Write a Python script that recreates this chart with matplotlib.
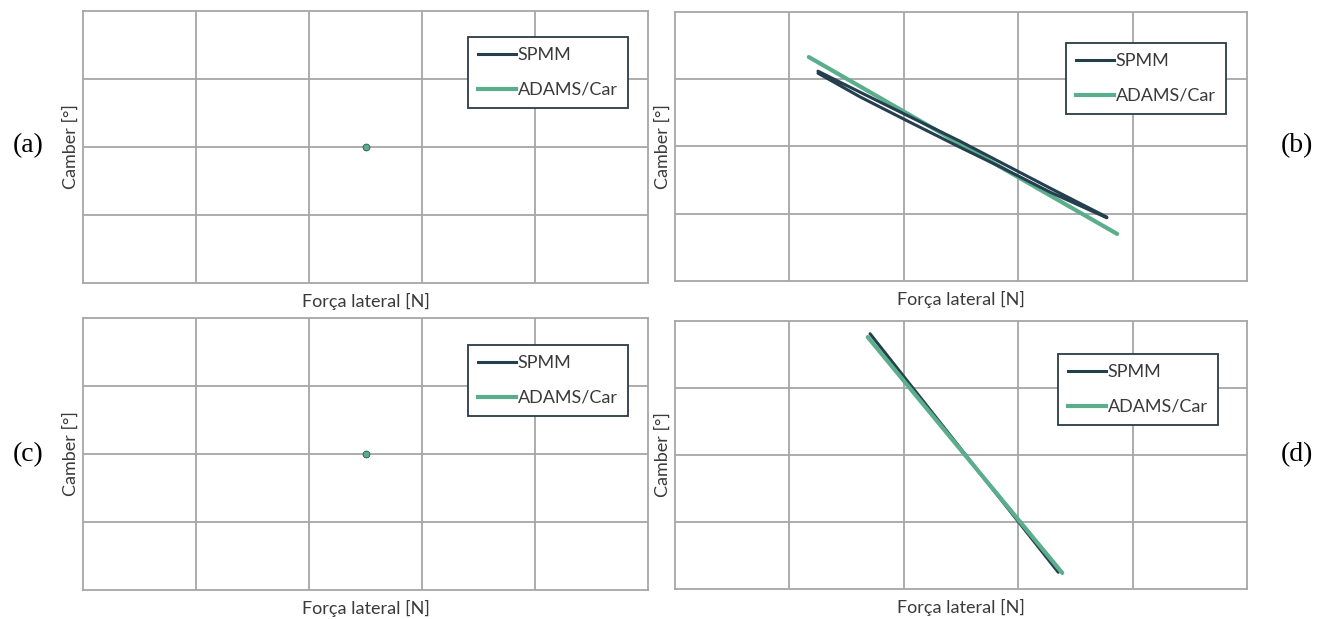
import matplotlib
matplotlib.use("Agg")
import matplotlib.pyplot as plt
from matplotlib.lines import Line2D

# Series names
series_names = ["SPMM", "ADAMS/Car"]

# Panel (a): both models sit at the origin
a_spmm_x = [0.0]
a_spmm_y = [0.0]
a_adams_x = [0.0]
a_adams_y = [0.0]

# Panel (b): SPMM traces a narrow loop, ADAMS/Car a straight line
b_spmm_x = [-2.50, -1.77, -0.96, -0.02, 0.68, 1.56, 2.55, 2.55, 1.56, 0.68, -0.02, -0.96, -1.77, -2.50]
b_spmm_y = [1.09, 0.74, 0.39, -0.01, -0.30, -0.68, -1.06, -1.05, -0.62, -0.23, 0.08, 0.47, 0.81, 1.12]
b_adams_x = [-2.66, 2.73]
b_adams_y = [1.33, -1.30]

# Panel (c): both models sit at the origin
c_spmm_x = [0.0]
c_spmm_y = [0.0]
c_adams_x = [0.0]
c_adams_y = [0.0]

# Panel (d)
d_spmm_x = [-1.59, 1.70]
d_spmm_y = [1.81, -1.75]
d_adams_x = [-1.63, 1.77]
d_adams_y = [1.76, -1.76]

panel_tags = ["(a)", "(b)", "(c)", "(d)"]
x_label = "Força lateral [N]"
y_label = "Camber [°]"

SPMM_COLOR = "#243f4e"
ADAMS_COLOR = "#5aae8b"
GRID_COLOR = "#a6a6a6"
TEXT_COLOR = "#3a3a3a"
SANS = ["Lato", "DejaVu Sans"]
SERIF = ["Liberation Serif", "DejaVu Serif"]

W, H = 1322, 619
fig = plt.figure(figsize=(W / 100, H / 100), dpi=100)


def px_axes(left, top, right, bottom):
    return fig.add_axes([left / W, (H - bottom) / H, (right - left) / W, (bottom - top) / H])


boxes = [
    (83, 11, 648, 283),
    (675, 12, 1247, 281),
    (83, 318, 648, 590),
    (675, 321, 1247, 589),
]
legend_anchor = [
    (468, 37),
    (1066, 43),
    (468, 345),
    (1058, 354),
]
data = [
    (a_spmm_x, a_spmm_y, a_adams_x, a_adams_y),
    (b_spmm_x, b_spmm_y, b_adams_x, b_adams_y),
    (c_spmm_x, c_spmm_y, c_adams_x, c_adams_y),
    (d_spmm_x, d_spmm_y, d_adams_x, d_adams_y),
]
tag_pos = [(28, 146), (1297, 146), (28, 455), (1297, 455)]

for i, (box, (sx, sy, ax_, ay_)) in enumerate(zip(boxes, data)):
    ax = px_axes(*box)
    ax.set_xlim(-5, 5)
    ax.set_ylim(-2, 2)
    ax.set_xticks([-3, -1, 1, 3])
    ax.set_yticks([-1, 0, 1])
    ax.tick_params(length=0, labelbottom=False, labelleft=False)
    ax.grid(True, color=GRID_COLOR, linewidth=1.3)
    ax.set_axisbelow(True)
    for sp in ax.spines.values():
        sp.set_color(GRID_COLOR)
        sp.set_linewidth(1.3)

    if len(sx) == 1:
        ax.plot(sx, sy, color=SPMM_COLOR, marker="o", markersize=4.5, linewidth=2.2)
        ax.plot(ax_, ay_, color=ADAMS_COLOR, marker="o", markersize=3.5, linewidth=3)
    else:
        ax.plot(sx, sy, color=SPMM_COLOR, linewidth=2.2, solid_capstyle="round", zorder=3)
        ax.plot(ax_, ay_, color=ADAMS_COLOR, linewidth=3.0, solid_capstyle="round",
                zorder=2 if i == 1 else 4)

    ax.set_xlabel(x_label, family=SANS, fontsize=13, color=TEXT_COLOR, labelpad=7)
    ax.set_ylabel(y_label, family=SANS, fontsize=13, color=TEXT_COLOR, labelpad=3)

    # legend with line-only handles
    handles = [Line2D([], [], color=SPMM_COLOR, linewidth=2.2),
               Line2D([], [], color=ADAMS_COLOR, linewidth=3.0)]
    lx, ly = legend_anchor[i]
    x0, y0, x1, y1 = box
    leg = ax.legend(handles, series_names, loc="upper left",
                    bbox_to_anchor=((lx - x0) / (x1 - x0), (y1 - ly) / (y1 - y0)),
                    borderaxespad=0, frameon=True, fancybox=False,
                    prop={"family": SANS, "size": 13},
                    handlelength=2.1, handletextpad=0.1, labelspacing=1.05,
                    borderpad=0.55, labelcolor=TEXT_COLOR)
    leg.get_frame().set_edgecolor("#2b3a44")
    leg.get_frame().set_linewidth(1.3)
    leg.get_frame().set_alpha(1)

    tx, ty = tag_pos[i]
    fig.text(tx / W, (H - ty) / H, panel_tags[i], family=SERIF, fontsize=20,
             ha="center", va="center", color="black")

fig.savefig("out.png", dpi=100, facecolor="white")
